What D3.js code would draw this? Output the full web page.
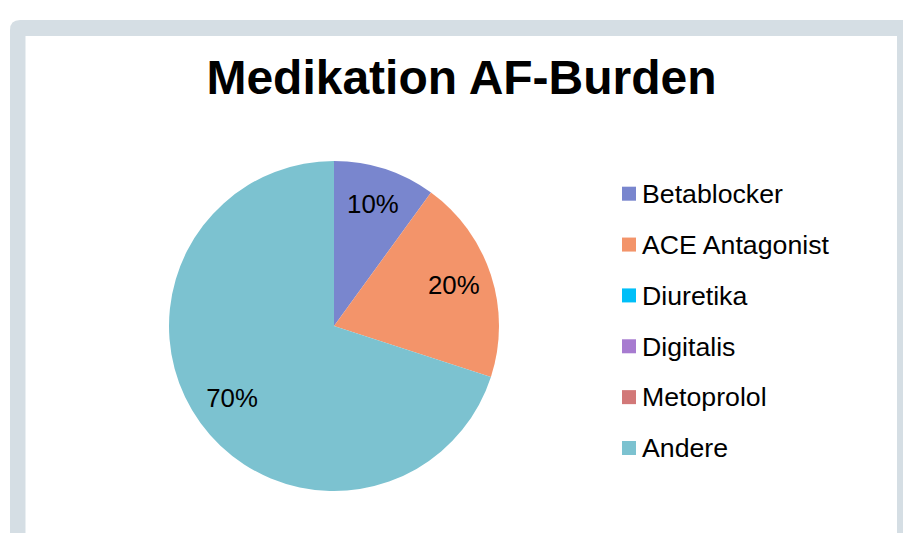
<!DOCTYPE html>
<html>
<head>
<meta charset="utf-8">
<script src="https://cdn.jsdelivr.net/npm/d3@7"></script>
<style>
  html, body { margin: 0; padding: 0; background: #ffffff; }
  #chart { width: 903px; height: 533px; }
</style>
</head>
<body>
<div id="chart"></div>
<script>
// chart data
const categories = ["Betablocker", "ACE Antagonist", "Diuretika", "Digitalis", "Metoprolol", "Andere"]
const values = [10, 20, 0, 0, 0, 70]
const colors = ["#7986CE", "#F3946A", "#00BFF8", "#A77BD0", "#D27878", "#7CC2D0"]
const title = "Medikation AF-Burden"

const width = 903
const height = 533
const font = "'Liberation Sans', Arial, sans-serif"

const svg = d3.select("#chart")
  .append("svg")
  .attr("width", width)
  .attr("height", height)
  .attr("viewBox", [0, 0, width, height])

// frame: grey-blue band around the white panel
svg.append("path")
  .attr("d", "M10,543 L10,30 Q10,20 20,20 L903,20 L903,543 Z")
  .attr("fill", "#D5DEE4")
svg.append("rect")
  .attr("x", 25.5)
  .attr("y", 36)
  .attr("width", 871.5)
  .attr("height", 520)
  .attr("fill", "#ffffff")

svg.append("text")
  .attr("x", 461.5)
  .attr("y", 94)
  .attr("text-anchor", "middle")
  .style("font-family", font)
  .style("font-weight", "bold")
  .style("font-size", "48px")
  .style("fill", "#000")
  .text(title)

const cx = 334, cy = 326, r = 165
const total = d3.sum(values)

const pie = d3.pie().sort(null).value(d => d)
const arcs = pie(values)
const arc = d3.arc().innerRadius(0).outerRadius(r)
const labelArc = d3.arc().innerRadius(126).outerRadius(126)

const g = svg.append("g").attr("transform", `translate(${cx},${cy})`)

g.selectAll("path.slice")
  .data(arcs)
  .enter()
  .append("path")
  .attr("class", "slice")
  .attr("d", arc)
  .attr("fill", (d, i) => colors[i])

g.selectAll("text.lbl")
  .data(arcs.filter(d => d.value > 0))
  .enter()
  .append("text")
  .attr("class", "lbl")
  .attr("transform", d => `translate(${labelArc.centroid(d)})`)
  .attr("text-anchor", "middle")
  .attr("dy", "0.28em")
  .style("font-family", font)
  .style("font-size", "25.8px")
  .style("fill", "#000")
  .text(d => Math.round(d.value / total * 100) + "%")

// legend
const legendY = d3.scalePoint()
  .domain(categories)
  .range([193.7, 448])

const legend = svg.append("g")
const items = legend.selectAll("g")
  .data(categories)
  .enter()
  .append("g")
  .attr("transform", d => `translate(622,${legendY(d)})`)

items.append("rect")
  .attr("x", 0)
  .attr("y", -7)
  .attr("width", 14)
  .attr("height", 14)
  .attr("fill", (d, i) => colors[i])

items.append("text")
  .attr("x", 20)
  .attr("y", 0)
  .attr("dy", "0.35em")
  .style("font-family", font)
  .style("font-size", "26.7px")
  .style("fill", "#000")
  .text(d => d)
</script>
</body>
</html>
